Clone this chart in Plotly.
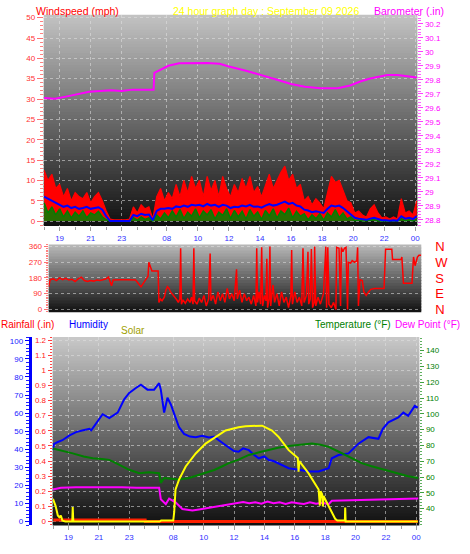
import plotly.graph_objects as go

W, H = 470, 554

# ---------------- data ----------------
tick_pos = [0, 2, 4, 6.9, 8.9, 10.9, 12.9, 14.9, 16.9, 18.9, 20.9, 22.9]
tick_text = ['19', '21', '23', '08', '10', '12', '14', '16', '18', '20', '22', '00']
minor_pos = [-1, 1, 3, 5, 5.9, 7.9, 9.9, 11.9, 13.9, 15.9, 17.9, 19.9, 21.9]

# wind samples every 0.25 chart-hour starting at -1
wind_gust = [12.5, 10, 11.5, 8, 9, 6, 8, 5, 7, 6,
             5.5, 7, 4.5, 6, 7, 5, 2.5, 0.5, 0.3, 0.3,
             0.3, 0.3, 0.5, 3.5, 2, 4, 3, 3.5, 0.5, 6,
             8, 5, 7, 5.5, 9, 6, 10, 7, 11, 8,
             10, 6, 11, 7.5, 10, 6, 11, 8, 6, 9,
             7, 10.5, 8, 11, 7, 8.5, 6, 9, 11.5, 8,
             10, 12, 13.5, 10, 11.5, 8, 9, 5, 6, 4,
             5.5, 4.5, 3, 7, 11, 9.5, 10, 7.5, 5, 4.5,
             2, 2.5, 1.5, 1, 3, 4, 2, 0.8, 1, 0.5,
             1, 0.5, 5.5, 2, 2.5, 1.5, 5]
wind_avg = [6, 5.5, 5, 4.5, 4, 3.5, 3.8, 3.2, 3.5, 3,
            3.2, 3.5, 3, 3.2, 3.4, 2.8, 1.2, 0, 0, 0,
            0, 0, 0, 1.5, 1.2, 1.8, 1.5, 1.6, 0.2, 2.5,
            3, 3, 3.2, 3, 3.6, 3.4, 3.8, 3.5, 4, 3.8,
            4, 3.6, 4.2, 3.8, 4, 3.5, 4, 3.8, 3.2, 3.5,
            3.4, 3.8, 3.6, 4, 3.5, 3.6, 3.3, 3.8, 4.2, 3.8,
            4, 4.4, 4.8, 4.2, 4.5, 3.8, 3.6, 2.8, 2.6, 2.2,
            2.4, 2.2, 2, 3, 3.8, 3.6, 3.8, 3.2, 2.4, 1.6,
            0.8, 0.6, 0.4, 0.3, 0.6, 0.8, 0.5, 0.2, 0.2, 0.1,
            0.2, 0.1, 1.2, 0.6, 0.8, 0.5, 1.2]
wind_speed = [4.5, 2, 3.5, 1.5, 3, 1, 2.5, 0.8, 2.2, 1.2,
              2.5, 0.8, 2, 1.5, 2.4, 1, 0.3, 0, 0, 0,
              0, 0, 0, 0.8, 0.2, 1, 0.4, 0.8, 0, 1.5,
              0.5, 2, 0.8, 2.5, 1, 2.8, 0.6, 2.2, 1.2, 3,
              0.8, 2.5, 1.5, 2.8, 0.5, 2.2, 1.4, 3, 0.6, 2.6,
              1, 2.4, 0.5, 2.8, 1.2, 2.2, 0.4, 2.6, 1.3, 3,
              0.7, 2.5, 1.6, 3.2, 0.8, 2.4, 1.2, 1.8, 0.3, 1.5,
              0.6, 1.8, 0.2, 2, 1, 2.8, 0.9, 2, 0.5, 1,
              0.1, 0.3, 0, 0.1, 0.2, 0.4, 0, 0.1, 0, 0,
              0.1, 0, 0.6, 0.1, 0.3, 0, 0.5]
wind_hours = [-1.0 + 0.25 * i for i in range(len(wind_gust))]

baro_hours = [-1.0, -0.3, 0.4, 1.2, 1.9, 2.6, 3.3, 4.0, 4.7, 5.4, 6.05, 6.1, 6.5, 7.0, 7.7,
              8.5, 9.5, 10.3, 10.9, 12.0, 13.0, 14.0, 14.9, 15.8, 16.8, 17.9, 18.7, 19.4,
              20.0, 20.5, 21.1, 21.75, 22.4, 23.0]
baro_values = [29.67, 29.665, 29.68, 29.70, 29.715, 29.72, 29.725, 29.72, 29.73, 29.73, 29.73,
               29.85, 29.87, 29.90, 29.918, 29.92, 29.92, 29.915, 29.895, 29.865, 29.835,
               29.80, 29.77, 29.75, 29.74, 29.74, 29.76, 29.79, 29.81, 29.82, 29.835,
               29.835, 29.825, 29.816]

dir_hours = [-1.0, -0.9, -0.7, -0.5, -0.3, -0.1, 0.1, 0.3, 0.5, 0.7, 0.9, 1.1, 1.3, 1.5, 1.7,
             1.9, 2.1, 2.3, 2.5, 2.7, 2.85, 2.95, 3.05, 3.15, 3.4, 3.7, 4.0, 4.3, 4.6, 4.85,
             4.95, 5.1, 5.3, 5.4, 5.45, 5.55, 5.65, 6.05, 6.1, 6.2, 6.3, 6.45, 6.55, 6.65,
             6.75, 6.85, 6.95, 7.1, 7.25, 7.35, 7.45, 7.5, 7.55, 7.65, 7.8, 7.95, 8.1, 8.2,
             8.3, 8.35, 8.4, 8.55, 8.7, 8.85, 9.0, 9.15, 9.3, 9.4, 9.45, 9.6, 9.75, 9.9,
             10.05, 10.2, 10.35, 10.5, 10.65, 10.8, 10.95, 11.1, 11.15, 11.3, 11.45, 11.6,
             11.75, 11.9, 12.05, 12.2, 12.35, 12.4, 12.45, 12.55, 12.65, 12.72, 12.78, 12.9,
             13.0, 13.05, 13.1, 13.2, 13.25, 13.3, 13.45, 13.55, 13.7, 13.85, 14.0, 14.15,
             14.3, 14.45, 14.6, 14.65, 14.7, 14.85, 15.0, 15.15, 15.3, 15.38, 15.45, 15.6,
             15.7, 15.75, 15.85, 15.92, 16.0, 16.1, 16.13, 16.2, 16.35, 16.5, 16.7, 16.85,
             16.9, 16.98, 17.05, 17.2, 17.35, 17.5, 17.55, 17.7, 17.8, 17.85, 17.95, 18.05,
             18.15, 18.25, 18.3, 18.45, 18.55, 18.7, 18.85, 18.9, 18.95, 19.05, 19.2, 19.3,
             19.45, 19.6, 19.75, 20.0, 20.3, 20.6, 20.7, 21.1, 21.15, 21.7, 21.75, 21.85,
             22.4, 22.5, 22.6, 22.75, 22.85, 23.0]
dir_deg = [130, 170, 175, 165, 180, 170, 178, 168, 172, 160, 175, 185, 165, 160, 165,
           162, 168, 165, 170, 175, 185, 160, 135, 168, 170, 170, 170, 170, 168, 140,
           130, 150, 175, 190, 270, 250, 220, 220, 40, 60, 50, 70, 110, 130,
           120, 100, 90, 70, 55, 40, 60, 350, 30, 55, 35, 60, 40, 70,
           30, 350, 50, 30, 65, 40, 80, 20, 60, 320, 50, 80, 30, 100,
           50, 90, 40, 120, 60, 90, 50, 230, 60, 110, 40, 90,
           50, 70, 30, 80, 20, 350, 40, 100, 30, 355, 20, 80,
           50, 290, 10, 60, 360, 20, 140, 40, 90, 20, 100, 40,
           70, 10, 80, 340, 30, 100, 40, 70, 20, 350, 40, 80,
           330, 30, 60, 345, 10, 40, 360, 20, 70, 30, 90, 360,
           10, 355, 30, 10, 40, 0, 355, 350, 20, 355, 330, 350,
           355, 0, 270, 265, 280, 270, 280, 355, 20, 170, 165, 100,
           80, 100, 115, 120, 120, 120, 345, 345, 285, 285, 300, 150,
           150, 300, 250, 300, 310, 310]

rain_hours = [-1.0, 5.05, 5.06, 23.0]
rain_inches = [0.01, 0.01, 0.0, 0.0]

hum_hours = [-1.03, -0.95, -0.7, -0.4, 0.07, 0.5, 0.9, 1.38, 1.5, 1.8, 2.25, 2.69, 3.24, 3.67,
             4.0, 4.44, 4.77, 5.2, 5.64, 5.97, 6.08, 6.3, 6.52, 6.74, 7.07, 7.28, 7.61, 8.0,
             8.38, 8.8, 9.25, 9.6, 9.9, 10.2, 10.56, 10.9, 11.2, 11.5, 11.88, 12.2, 12.53,
             12.9, 13.19, 13.5, 13.85, 14.2, 14.5, 15.16, 15.8, 16.47, 17.13, 17.34, 17.78,
             18.44, 19.09, 19.75, 20.41, 20.7, 21.06, 21.72, 22.05, 22.37, 22.8, 23.0]
hum_pct = [39.5, 43, 44, 45, 47.7, 49.5, 50.4, 51.3, 50.5, 54, 59.4, 57.2, 60.3, 67.6,
           71.2, 73.9, 75.7, 73, 73, 76.6, 73, 60.3, 68.5, 64.8, 57.6, 52.2, 48.5, 47,
           46.7, 47.5, 46.5, 47, 45, 43, 41, 39, 38.6, 40.5, 39.5, 37, 35,
           36, 34, 33.5, 32.2, 31, 29.5, 28.6, 27.7, 27.7, 29.5, 35, 36.8,
           37.7, 43.1, 46.7, 45.8, 51.3, 54.9, 57.6, 60.3, 58.5, 64, 63]

temp_hours = [-1.03, -0.5, 0.28, 1.0, 1.6, 2.2, 2.69, 3.0, 3.35, 4.0, 4.66, 5.3, 5.97, 6.08,
              6.3, 6.8, 7.28, 7.94, 8.5, 9.03, 9.6, 10.1, 10.56, 11.2, 11.88, 12.5, 13.19,
              13.8, 14.5, 15.2, 16.03, 16.6, 17.13, 17.7, 18.22, 18.8, 19.31, 19.9, 20.41,
              21.0, 21.5, 22.0, 22.37, 23.03]
temp_f = [78.1, 77, 75, 73, 71.9, 71.5, 70.9, 69.5, 67.8, 64.6, 62.5, 63, 62.5, 56.3,
          59.4, 58.8, 58.4, 59.4, 61, 62.5, 64.5, 66.7, 68.8, 71, 74, 75.5, 77.1,
          78.5, 79.6, 80.5, 81.2, 80.5, 79.1, 76.5, 74, 71.2, 68.8, 67, 65.6,
          64, 62.5, 61.5, 60.5, 59.4]

dew_hours = [-1.03, -0.5, 0.5, 1.5, 2.47, 3.5, 4.5, 5.97, 6.08, 6.41, 6.63, 7.07, 7.5, 8.16,
             8.6, 9.03, 9.6, 10.1, 10.56, 11.0, 11.5, 11.9, 12.3, 12.7, 13.1, 13.5, 13.9,
             14.3, 14.7, 15.1, 15.5, 15.9, 16.3, 16.7, 17.13, 17.34, 18.3, 19.31, 20.4,
             21.5, 22.3, 23.03]
dew_f = [52.2, 53.2, 53.5, 53.5, 53.7, 53.5, 53.2, 53.2, 46, 42.9, 46.4, 43.9, 39.8, 38.8,
         39.5, 40.2, 41, 41.9, 42.9, 43.2, 44.2, 43.4, 44, 43.2, 44.5, 43.5, 44,
         43, 44, 43.5, 43, 44, 43.2, 43.8, 42.9, 45, 45.2, 45.6, 45.8,
         46, 46.2, 46.4]

solar_hours = [-1.02, -0.85, -0.7, -0.6, -0.5, -0.4, -0.2, 0.25, 0.28, 0.32, 6.0, 6.1, 6.9,
               6.96, 7.05, 7.28, 7.72, 8.38, 9.03, 9.69, 10.35, 11.2, 11.66, 12.75, 13.4,
               13.85, 14.5, 15.1, 15.15, 15.2, 15.8, 16.47, 16.55, 16.6, 16.7, 16.75, 16.8,
               16.9, 17.34, 17.56, 17.7, 18.2, 18.22, 18.25, 23.0]
solar_wm2 = [150, 104, 40, 28, 39, 6, 0, 0, 95, 0, 0, 6, 6,
             60, 212, 277, 364, 450, 515, 558, 602, 623, 630, 634, 602,
             558, 472, 420, 330, 400, 320, 212, 104, 200, 180, 100, 170,
             147, 60, 18, 6, 6, 93, 0, 0]

# ---------------- layout helpers ----------------
def fx(p):
    return p / W


def fy(p):
    return 1 - p / H


P1 = dict(x0=44, x1=420, y0=10, y1=225)
P2 = dict(x0=49, x1=424, y0=244, y1=313)
P3 = dict(x0=53, x1=422, y0=338, y1=530)

shapes = []


def gradient(p, top, bottom, step=3):
    n = int((p['y1'] - p['y0']) / step) + 1
    for k in range(n):
        ya = p['y0'] + k * step
        if ya >= p['y1']:
            break
        yb = min(ya + step + 1, p['y1'])
        t = (ya - p['y0']) / (p['y1'] - p['y0'])
        g = int(round(top + (bottom - top) * t))
        shapes.append(dict(type='rect', xref='paper', yref='paper', layer='below',
                           x0=fx(p['x0']), x1=fx(p['x1']), y0=fy(yb), y1=fy(ya),
                           line=dict(width=0), fillcolor=f'rgb({g},{g},{g})'))


gradient(P1, 194, 14)
gradient(P2, 182, 12)
gradient(P3, 200, 14)

FONT = 'Liberation Sans, Arial, sans-serif'
GRID = 'rgba(225,225,225,0.55)'


def tickf(c):
    return dict(family=FONT, size=8, color=c)


fig = go.Figure()

# panel 1
fig.add_trace(go.Scatter(x=wind_hours, y=wind_gust, mode='lines', line=dict(color='#ff0000', width=1.2),
                         fill='tozeroy', fillcolor='#ff0000', xaxis='x', yaxis='y'))
fig.add_trace(go.Scatter(x=wind_hours, y=wind_speed, mode='lines', line=dict(color='#008000', width=1.5),
                         fill='tozeroy', fillcolor='rgba(0,128,0,0.85)', xaxis='x', yaxis='y'))
fig.add_trace(go.Scatter(x=wind_hours, y=wind_avg, mode='lines', line=dict(color='#0000ff', width=2),
                         xaxis='x', yaxis='y'))
fig.add_trace(go.Scatter(x=baro_hours, y=baro_values, mode='lines', line=dict(color='#ff00ff', width=2),
                         xaxis='x', yaxis='y2'))
# panel 2
fig.add_trace(go.Scatter(x=dir_hours, y=dir_deg, mode='lines', line=dict(color='#ff0000', width=1.5),
                         xaxis='x2', yaxis='y3'))
fig.add_trace(go.Scatter(x=[None], y=[None], mode='lines', xaxis='x2', yaxis='y4'))
# panel 3
fig.add_trace(go.Scatter(x=temp_hours, y=temp_f, mode='lines', line=dict(color='#008000', width=2),
                         xaxis='x3', yaxis='y7'))
fig.add_trace(go.Scatter(x=dew_hours, y=dew_f, mode='lines', line=dict(color='#ff00ff', width=2),
                         xaxis='x3', yaxis='y7'))
fig.add_trace(go.Scatter(x=hum_hours, y=hum_pct, mode='lines', line=dict(color='#0000ff', width=2),
                         xaxis='x3', yaxis='y6'))
fig.add_trace(go.Scatter(x=solar_hours, y=solar_wm2, mode='lines', line=dict(color='#ffff00', width=2),
                         xaxis='x3', yaxis='y8'))
fig.add_trace(go.Scatter(x=rain_hours, y=rain_inches, mode='lines', line=dict(color='#ff2000', width=3),
                         xaxis='x3', yaxis='y5'))

xcommon = dict(tickvals=tick_pos, ticktext=tick_text, ticks='outside', ticklen=4,
               tickcolor='#a0a0a0', tickfont=tickf('#3030ff'), showgrid=True, gridcolor=GRID,
               griddash='dot', zeroline=False, showline=False,
               minor=dict(tickvals=minor_pos, ticks='outside', ticklen=3, tickcolor='#a0a0a0',
                          showgrid=False))

fig.update_layout(
    width=W, height=H, margin=dict(l=0, r=0, t=0, b=0),
    paper_bgcolor='white', plot_bgcolor='rgba(0,0,0,0)', showlegend=False,
    hovermode=False, shapes=shapes,
    xaxis=dict(domain=[fx(P1['x0']), fx(P1['x1'])], range=[-1.024, 23.03], anchor='y', **xcommon),
    yaxis=dict(domain=[fy(P1['y1']), fy(P1['y0'])], range=[-1.2, 50.7], anchor='x',
               tick0=0, dtick=5, ticks='outside', ticklen=6, tickcolor='#ff7070',
               tickfont=tickf('#ff3030'), showgrid=True, gridcolor=GRID, griddash='dot',
               zeroline=False, minor=dict(dtick=1, ticks='outside', ticklen=3, tickcolor='#ff8080',
                                          showgrid=False)),
    yaxis2=dict(overlaying='y', side='right', anchor='x', range=[28.757, 30.264],
                tick0=28.8, dtick=0.1, ticks='outside', ticklen=5, tickcolor='#ff40ff',
                tickfont=tickf('#ff00ff'), showgrid=False, zeroline=False,
                minor=dict(dtick=0.02, ticks='outside', ticklen=3, tickcolor='#ff60ff',
                           showgrid=False)),
    xaxis2=dict(domain=[fx(P2['x0']), fx(P2['x1'])], range=[-1.0, 23.0], anchor='y3',
                showticklabels=False, ticks='', showgrid=False, zeroline=False),
    yaxis3=dict(domain=[fy(P2['y1']), fy(P2['y0'])], range=[-16.9, 371], anchor='x2',
                tickvals=[0, 90, 180, 270, 360], ticks='outside', ticklen=4, tickcolor='#ff7070',
                tickfont=tickf('#ff3030'), showgrid=True, gridcolor=GRID, griddash='dot',
                zeroline=False, minor=dict(dtick=10, ticks='outside', ticklen=2, tickcolor='#ff8080',
                                           showgrid=False)),
    yaxis4=dict(overlaying='y3', side='right', anchor='x2', range=[-16.9, 371],
                tickvals=[0, 90, 180, 270, 360], ticktext=['N', 'E', 'S', 'W', 'N'], ticks='',
                ticklabelstandoff=13, tickfont=dict(family=FONT, size=13, color='#ff0000'),
                showgrid=False, zeroline=False),
    xaxis3=dict(domain=[fx(P3['x0']), fx(P3['x1'])], range=[-1.04, 23.1], anchor='y5', **xcommon),
    yaxis5=dict(domain=[fy(P3['y1']), fy(P3['y0'])], range=[-0.026, 1.221], anchor='x3',
                tick0=0, dtick=0.1, ticks='outside', ticklen=4, tickcolor='#ff4040',
                tickfont=tickf('#ff2020'), showgrid=True, gridcolor=GRID, griddash='dot',
                zeroline=False, minor=dict(dtick=0.02, ticks='outside', ticklen=2, tickcolor='#ff4040',
                                           showgrid=False)),
    yaxis6=dict(overlaying='y5', anchor='free', position=fx(30), side='left', range=[-2.17, 102.2],
                tick0=0, dtick=10, ticks='outside', ticklen=4, tickcolor='#0000ff',
                tickfont=tickf('#2020ff'), showline=True, linecolor='#0000ff', linewidth=3,
                showgrid=False, zeroline=False,
                minor=dict(dtick=2, ticks='outside', ticklen=3, tickcolor='#2020ff', showgrid=False)),
    yaxis7=dict(overlaying='y5', side='right', anchor='x3', range=[29.4, 148.7],
                tickvals=[40, 50, 60, 70, 80, 90, 100, 110, 120, 130, 140], ticks='outside',
                ticklen=4, tickcolor='#40a040', tickfont=tickf('#008000'), showgrid=False,
                zeroline=False, minor=dict(dtick=2, ticks='outside', ticklen=2, tickcolor='#60b060',
                                           showgrid=False)),
    yaxis8=dict(overlaying='y5', range=[-26, 1221], visible=False),
)


def note(text, x, y, color, size=11):
    fig.add_annotation(text=text, xref='paper', yref='paper', x=fx(x), y=fy(y), xanchor='left',
                       yanchor='middle', showarrow=False, font=dict(family=FONT, size=size, color=color))


note('Windspeed (mph)', 34, 6, '#ff0000', 10.5)
note('24 hour graph day : September 09 2026', 172, 6, '#ffff00', 10.5)
note('Barometer (.in)', 374, 6, '#ff00ff', 10.5)
note('Rainfall (.in)', -1, 325, '#ff0000', 10)
note('Humidity', 67, 325, '#0000ff', 10)
note('Solar', 120, 331, '#a0a000', 10)
note('Temperature (°F)', 315, 325, '#008000', 10)
note('Dew Point (°F)', 396, 325, '#ff00ff', 10)

fig.write_html('out.html', config={'displayModeBar': False, 'staticPlot': True},
               post_script="document.body.style.margin='0px';")
